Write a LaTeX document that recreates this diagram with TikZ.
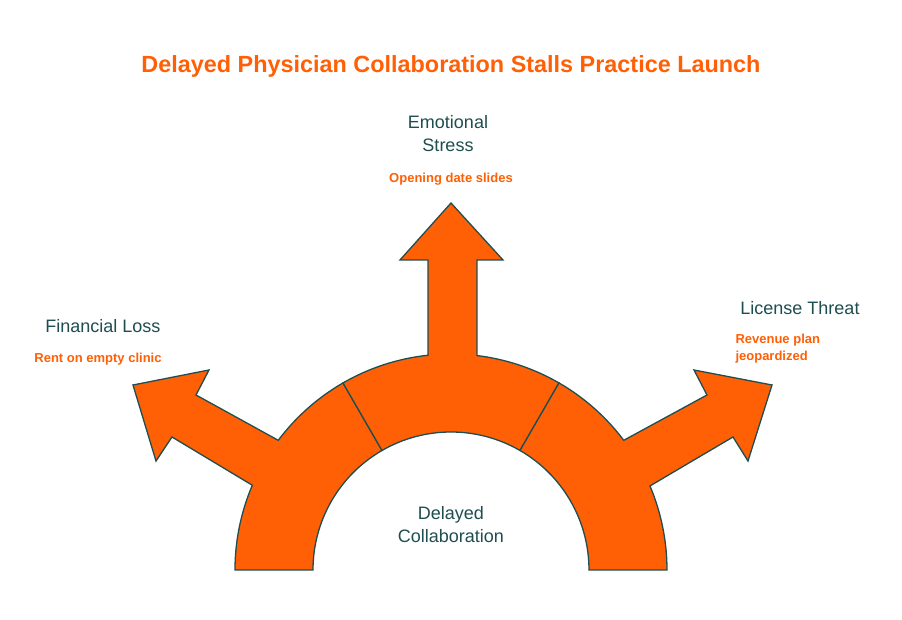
\documentclass[tikz,border=0pt]{standalone}
\usepackage{fontspec}
\setmainfont{Liberation Sans}
\definecolor{org}{HTML}{FF5F05}
\definecolor{teal}{HTML}{1F4E50}
\begin{document}
\begin{tikzpicture}[x=1pt,y=1pt,
  seg/.style={fill=org,draw=teal,line width=1.3pt,line join=miter},
  lbl/.style={text=teal,font=\fontsize{18}{23}\selectfont,align=center},
  sub/.style={text=org,font=\bfseries\fontsize{13}{17}\selectfont}]
\useasboundingbox (-451,-50) rectangle (451,570);
\path[fill=white] (-451,-50) rectangle (451,570);
\node[text=org,font=\bfseries\fontsize{23.4}{27}\selectfont] (title) at (0,504) {Delayed Physician Collaboration Stalls Practice Launch};
\draw[seg] (180:216) arc[start angle=180,end angle=156.9,radius=216] -- (-279,133) -- (-295,109) -- (-318,185) -- (-242,200) -- (-255,175) -- (143.1:216) arc[start angle=143.1,end angle=120,radius=216] -- (120:138) arc[start angle=120,end angle=180,radius=138] -- cycle;
\draw[seg] (120:216) arc[start angle=120,end angle=96.1,radius=216] -- (-23,310) -- (-51,310) -- (0,367) -- (52,310) -- (26,310) -- (83.1:216) arc[start angle=83.1,end angle=60,radius=216] -- (60:138) arc[start angle=60,end angle=120,radius=138] -- cycle;
\draw[seg] (60:216) arc[start angle=60,end angle=36.9,radius=216] -- (256,175) -- (243,200) -- (321,185) -- (297,109) -- (282,133) -- (22.9:216) arc[start angle=22.9,end angle=0,radius=216] -- (0:138) arc[start angle=0,end angle=60,radius=138] -- cycle;
\node[lbl] (es) at (-3,436) {Emotional\\Stress};
\node[sub] (ess) at (0,391) {Opening date slides};
\node[lbl] (fl) at (-348,244) {Financial Loss};
\node[sub] (fls) at (-353,211) {Rent on empty clinic};
\node[lbl] (lt) at (349,262) {License Threat};
\node[sub,align=left,anchor=west] (lts) at (281,221) {Revenue plan\\jeopardized};
\node[lbl] (dc) at (0,45) {Delayed\\Collaboration};
\end{tikzpicture}
\end{document}
